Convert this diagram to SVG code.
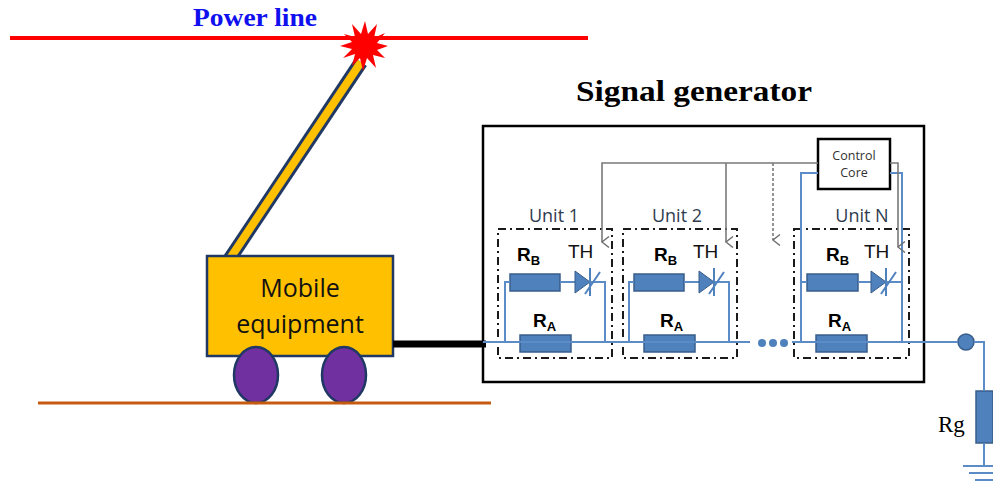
<svg xmlns="http://www.w3.org/2000/svg" width="993" height="482" viewBox="0 0 993 482">
  <defs>
    <marker id="vArrow" markerWidth="12" markerHeight="12" refX="6" refY="10" orient="auto" markerUnits="userSpaceOnUse" viewBox="0 0 12 12">
      <path d="M0.5,3 L6,10 L11.5,3" fill="none" stroke="#6f6f6f" stroke-width="1.4"/>
    </marker>
  </defs>
  <style>
    .wire{fill:none;stroke:#5b8cc8;stroke-width:2}
    .res{fill:#4f81bd;stroke:#385d8a;stroke-width:1.5}
    .unitbox{fill:none;stroke:#1a1a1a;stroke-width:2;stroke-dasharray:8 4 2 4}
    .ctrl{fill:none;stroke:#7a7a7a;stroke-width:1.6}
    .lbl{font-family:"Open Sans","Liberation Sans",sans-serif}
    .unit{fill:#2f3b4f}
    .dark{fill:#111}
    .rl{font-family:"Liberation Sans","Open Sans",sans-serif;font-weight:bold;font-size:19px;fill:#000}
    .th{font-family:"Liberation Sans","Open Sans",sans-serif;font-size:19px;fill:#111}
    .serif{font-family:"Liberation Serif","Times New Roman",serif}
  </style>

  <rect width="993" height="482" fill="#ffffff"/>

  <!-- overhead line -->
  <g id="power-line">
    <line x1="10" y1="38" x2="588" y2="38" stroke="#ff0000" stroke-width="4"/>
    <text class="serif" x="193" y="26" font-size="25" font-weight="bold" fill="#1010ee" textLength="124" lengthAdjust="spacingAndGlyphs">Power line</text>
  </g>

  <!-- boom of the vehicle -->
  <g id="boom">
    <line x1="229" y1="260" x2="361" y2="62" stroke="#1f3864" stroke-width="14"/>
    <line x1="229" y1="260" x2="361" y2="62" stroke="#ffc000" stroke-width="8"/>
  </g>

  <!-- contact spark -->
  <g id="spark">
    <polygon fill="#ff0000" points="365,21 368,34 377,24 374,38 385,33 377,43 388,46 377,50 385,58 373,55 376,68 367,58 363,71 360,58 352,66 355,54 343,58 352,49 340,46 352,42 344,34 355,37 352,24 361,34"/>
  </g>

  <!-- vehicle -->
  <g id="mobile-equipment">
    <rect x="207" y="256" width="186" height="100" fill="#ffc000" stroke="#1f3864" stroke-width="2.5"/>
    <text class="lbl dark" x="300" y="297" font-size="25" text-anchor="middle">Mobile</text>
    <text class="lbl dark" x="300" y="333" font-size="25" text-anchor="middle">equipment</text>
    <ellipse cx="256" cy="375" rx="22" ry="28" fill="#7030a0" stroke="#1f3864" stroke-width="2.5"/>
    <ellipse cx="344" cy="375" rx="22" ry="28" fill="#7030a0" stroke="#1f3864" stroke-width="2.5"/>
  </g>

  <g id="ground">
    <line x1="38" y1="403" x2="491" y2="403" stroke="#c55a11" stroke-width="3"/>
  </g>

  <!-- generator enclosure -->
  <g id="signal-generator">
    <rect x="483" y="126" width="441" height="256" fill="none" stroke="#000" stroke-width="2.5"/>
    <text class="serif" x="694" y="101" font-size="30" font-weight="bold" text-anchor="middle" fill="#000" textLength="236" lengthAdjust="spacingAndGlyphs">Signal generator</text>
  </g>

  <g id="control-core">
    <rect x="818" y="139" width="72" height="50" fill="#fff" stroke="#000" stroke-width="2.5"/>
    <text class="lbl" x="854" y="160" font-size="12.5" text-anchor="middle" fill="#333">Control</text>
    <text class="lbl" x="854" y="177" font-size="12.5" text-anchor="middle" fill="#333">Core</text>
  </g>

  <!-- Unit 1 -->
  <g id="unit-1">
    <rect class="unitbox" x="498" y="229" width="114" height="129"/>
    <text class="lbl unit" x="554" y="222" font-size="18" text-anchor="middle">Unit 1</text>
    <rect class="res" x="510" y="274" width="50" height="17"/>
    <rect class="res" x="520" y="335" width="51" height="17"/>
    <path class="wire" d="M505,342 V282 H510 M560,282 H575 M590,282 H605 V342"/>
    <polygon points="575,271 575,293 590,282" fill="#4f81bd" stroke="#385d8a" stroke-width="1"/>
    <path d="M590,268 V296 M585,294 L600,272" stroke="#4f81bd" stroke-width="2" fill="none"/>
    <text class="rl" x="517" y="261">R<tspan font-size="13" dy="4">B</tspan></text>
    <text class="th" x="568" y="258">TH</text>
    <text class="rl" x="533" y="327">R<tspan font-size="13" dy="4">A</tspan></text>
  </g>

  <!-- Unit 2 -->
  <g id="unit-2">
    <rect class="unitbox" x="623" y="229" width="114" height="129"/>
    <text class="lbl unit" x="677" y="222" font-size="18" text-anchor="middle">Unit 2</text>
    <rect class="res" x="634" y="274" width="50" height="17"/>
    <rect class="res" x="644" y="335" width="51" height="17"/>
    <path class="wire" d="M629,342 V282 H634 M684,282 H699 M714,282 H729 V342"/>
    <polygon points="699,271 699,293 714,282" fill="#4f81bd" stroke="#385d8a" stroke-width="1"/>
    <path d="M714,268 V296 M709,294 L724,272" stroke="#4f81bd" stroke-width="2" fill="none"/>
    <text class="rl" x="654" y="261">R<tspan font-size="13" dy="4">B</tspan></text>
    <text class="th" x="693" y="258">TH</text>
    <text class="rl" x="660" y="327">R<tspan font-size="13" dy="4">A</tspan></text>
  </g>

  <!-- Unit N -->
  <g id="unit-n">
    <rect class="unitbox" x="794" y="229" width="115" height="129"/>
    <text class="lbl unit" x="862" y="222" font-size="18" text-anchor="middle">Unit N</text>
    <rect class="res" x="807" y="274" width="51" height="17"/>
    <rect class="res" x="816" y="335" width="51" height="17"/>
    <path class="wire" d="M801,282 H807 M858,282 H871 M886,282 H902"/>
    <polygon points="871,271 871,293 886,282" fill="#4f81bd" stroke="#385d8a" stroke-width="1"/>
    <path d="M886,268 V296 M881,294 L896,272" stroke="#4f81bd" stroke-width="2" fill="none"/>
    <text class="rl" x="826" y="261">R<tspan font-size="13" dy="4">B</tspan></text>
    <text class="th" x="864" y="258">TH</text>
    <text class="rl" x="828" y="327">R<tspan font-size="13" dy="4">A</tspan></text>
  </g>

  <!-- earthing resistor -->
  <g id="rg">
    <circle cx="966" cy="342" r="8" fill="#4f81bd" stroke="#385d8a" stroke-width="1.5"/>
    <rect class="res" x="976" y="391" width="17" height="52"/>
    <text class="serif" x="938" y="432" font-size="23" fill="#000">Rg</text>
    <path d="M963,466 H993 M969,473 H993 M975,480 H993" stroke="#5b8cc8" stroke-width="2" fill="none"/>
  </g>

  <!-- connectors -->
  <g id="connectors">
    <line x1="393" y1="344" x2="486" y2="344" stroke="#000" stroke-width="7"/>
    <path class="wire" d="M483,342 H750 M792,342 H958 M974,342 H984 V391 M984,443 V466"/>
    <path class="wire" d="M818,173 H801 V342 M890,173 H902 V342"/>
    <circle cx="762" cy="343" r="4" fill="#4f81bd"/>
    <circle cx="773" cy="343" r="4" fill="#4f81bd"/>
    <circle cx="784" cy="343" r="4" fill="#4f81bd"/>
    <path class="ctrl" d="M818,163 H602 V242" marker-end="url(#vArrow)"/>
    <path class="ctrl" d="M726,163 V242" marker-end="url(#vArrow)"/>
    <path class="ctrl" d="M773,163 V240" stroke-dasharray="3 2" marker-end="url(#vArrow)"/>
    <path class="ctrl" d="M890,163 H898 V247" marker-end="url(#vArrow)"/>
  </g>
</svg>
